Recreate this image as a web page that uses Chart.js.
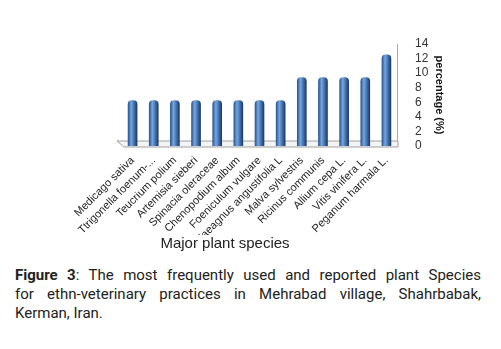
<!DOCTYPE html>
<html>
<head>
<meta charset="utf-8">
<script src="https://cdn.jsdelivr.net/npm/chart.js@4"></script>
<style>
  html, body { margin: 0; padding: 0; background: #fff; }
  body { width: 501px; height: 349px; position: relative; overflow: hidden; }
  #wrap { position: absolute; left: 0; top: 0; width: 450px; height: 258px; }
  #caption { position: absolute; left: 15px; top: 266px; width: 466px; font-family: Roboto, sans-serif; font-size: 15px; line-height: 19px; color: #222; }
  #caption div { white-space: nowrap; }
  #caption .j { text-align: justify; text-align-last: justify; white-space: normal; }
</style>
</head>
<body>
<div id="wrap"><canvas id="c" width="450" height="258"></canvas></div>
<div id="caption">
  <div class="j"><b>Figure 3</b>: The most frequently used and reported plant Species</div>
  <div class="j">for ethn-veterinary practices in Mehrabad village, Shahrbabak,</div>
  <div>Kerman, Iran.</div>
</div>
<script>
const categories = ["Medicago sativa", "Ttrigonella foenum-...", "Teucrium polium", "Artemisia sieberi", "Spinacia oleraceae", "Chenopodium album", "Foeniculum vulgare", "Elaeagnus angustifolia L", "Malva sylvestris", "Ricinus communis", "Allium cepa L.", "Vitis vinifera L.", "Peganum harmala L."];
const percentages = [6.25, 6.25, 6.25, 6.25, 6.25, 6.25, 6.25, 6.25, 9.375, 9.375, 9.375, 9.375, 12.5];
const yTicks = [0, 2, 4, 6, 8, 10, 12, 14];

const BAR_W = 9;
function cylinderFill(ctx) {
  const chart = ctx.chart;
  const xs = chart.scales && chart.scales.x;
  if (!xs || ctx.dataIndex === undefined) return '#4a7ebb';
  const cx = xs.getPixelForValue(ctx.dataIndex);
  if (!isFinite(cx)) return '#4a7ebb';
  const g = chart.ctx.createLinearGradient(cx - BAR_W / 2, 0, cx + BAR_W / 2, 0);
  g.addColorStop(0, '#2b5794');
  g.addColorStop(0.35, '#78a6de');
  g.addColorStop(0.6, '#4a7ebb');
  g.addColorStop(1, '#1d3a64');
  return g;
}

const floorPlugin = {
  id: 'floor',
  beforeDatasetsDraw(chart) {
    const { ctx, chartArea, scales } = chart;
    const y0 = scales.y.getPixelForValue(0);
    ctx.save();
    ctx.beginPath();
    ctx.moveTo(chartArea.left - 5, y0 - 5);
    ctx.lineTo(chartArea.right + 1, y0 - 5);
    ctx.lineTo(chartArea.right + 1, y0 + 1);
    ctx.lineTo(chartArea.left + 2, y0 + 1);
    ctx.closePath();
    ctx.fillStyle = '#f4f4f4';
    ctx.fill();
    ctx.strokeStyle = '#a0a0a0';
    ctx.lineWidth = 1;
    ctx.stroke();
    ctx.restore();
  }
};

new Chart(document.getElementById('c'), {
  type: 'bar',
  data: {
    labels: categories,
    datasets: [{
      data: percentages,
      backgroundColor: cylinderFill,
      borderWidth: 0,
      barThickness: BAR_W,
      borderRadius: { topLeft: 4, topRight: 4, bottomLeft: 0, bottomRight: 0 },
      borderSkipped: false
    }]
  },
  options: {
    responsive: false,
    animation: false,
    devicePixelRatio: 1,
    layout: { padding: { left: 4, top: 44, right: 4, bottom: 5 } },
    plugins: {
      legend: { display: false },
      tooltip: { enabled: false },
      title: {
        display: true,
        position: 'bottom',
        text: 'Major plant species',
        color: '#222',
        font: { family: 'Liberation Sans', size: 15, weight: 'normal' },
        padding: { top: 0, bottom: 0 }
      }
    },
    scales: {
      x: {
        grid: { display: false },
        border: { display: false },
        afterFit(s) { s.height = 89; },
        ticks: {
          color: '#222',
          font: { family: 'Liberation Sans', size: 11 },
          minRotation: 45,
          maxRotation: 45,
          autoSkip: false,
          padding: 0
        }
      },
      spacer: {
        type: 'linear',
        position: 'left',
        display: true,
        grid: { display: false },
        border: { display: false },
        ticks: { display: false },
        afterFit(s) { s.width = 118; }
      },
      y: {
        position: 'right',
        min: 0,
        max: 14,
        afterBuildTicks(scale) { scale.ticks = yTicks.map(v => ({ value: v })); },
        afterFit(s) { s.width = 49; },
        grid: { display: false },
        border: { display: true, color: '#a8a8a8' },
        ticks: {
          color: '#333',
          font: { family: 'Liberation Sans', size: 12 },
          padding: 10,
          autoSkip: false
        },
        title: {
          display: true,
          text: 'percentage (%)',
          color: '#111',
          font: { family: 'Liberation Sans', size: 11, weight: 'bold' },
          padding: { top: 0, bottom: 0 }
        }
      }
    }
  },
  plugins: [floorPlugin]
});
</script>
</body>
</html>
